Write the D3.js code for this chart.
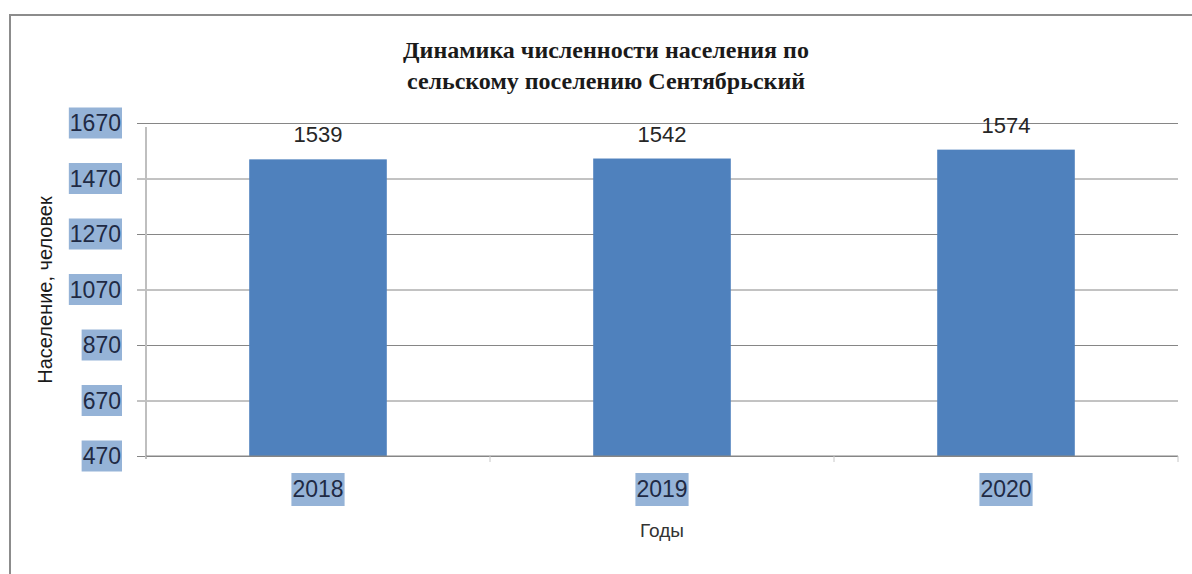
<!DOCTYPE html>
<html>
<head>
<meta charset="utf-8">
<script src="https://cdn.jsdelivr.net/npm/d3@7/dist/d3.min.js"></script>
<style>
  body { margin: 0; background: #fff; }
  svg { display: block; }
</style>
</head>
<body>
<div id="chart"></div>
<script>
var years = ["2018", "2019", "2020"];
var population = [1539, 1542, 1574];
var yTicks = [470, 670, 870, 1070, 1270, 1470, 1670];
var titleLines = ["Динамика численности населения по", "сельскому поселению Сентябрьский"];

var w = 1192, h = 574;
// plot box (don't call it "top", that's window.top)
var plotL = 146, plotR = 1178, plotT = 123, plotB = 456;

var svg = d3.select("#chart").append("svg")
  .attr("width", w)
  .attr("height", h);

// outer frame, cut off on right and bottom
svg.append("rect")
  .attr("x", 10).attr("y", 15)
  .attr("width", w + 20).attr("height", h + 20)
  .attr("fill", "none")
  .attr("stroke", "#8c8c8c")
  .attr("stroke-width", 2);

var x = d3.scaleBand().domain(years).range([plotL, plotR]).paddingInner(0.6).paddingOuter(0.3);
var y = d3.scaleLinear().domain([470, 1670]).range([plotB, plotT]);

// gridlines + ticks
var yAxis = d3.axisLeft(y).tickValues(yTicks).tickSize(-(plotR - plotL)).tickSizeOuter(0).tickFormat("");
var gy = svg.append("g").attr("transform", "translate(" + plotL + ",0)").call(yAxis);
gy.select(".domain").remove();
gy.selectAll(".tick line").attr("stroke", "#868686").attr("x1", -9);

// y axis line
svg.append("line")
  .attr("x1", plotL).attr("x2", plotL)
  .attr("y1", plotT + 4).attr("y2", plotB + 3)
  .attr("stroke", "#bfbfbf").attr("stroke-width", 2);

// bars
svg.selectAll("rect.bar")
  .data(population)
  .enter()
  .append("rect")
  .attr("class", "bar")
  .attr("x", function(d, i) { return x(years[i]); })
  .attr("width", x.bandwidth())
  .attr("y", function(d) { return y(d); })
  .attr("height", function(d) { return y(470) - y(d); })
  .attr("fill", "#4f81bd");

// x axis
var xAxis = d3.axisBottom(x).tickSize(0).tickFormat("");
var gx = svg.append("g").attr("transform", "translate(0," + plotB + ")").call(xAxis);
gx.select(".domain").attr("stroke", "#868686").attr("d", "M" + plotL + ",0H" + plotR);
// small category separators
[1, 2, 3].forEach(function(k) {
  var sx = plotL + k * (plotR - plotL) / 3;
  gx.append("line")
    .attr("x1", sx).attr("x2", sx)
    .attr("y1", 0).attr("y2", 6)
    .attr("stroke", "#c8c8c8");
});

// y tick labels with highlight
var yl = svg.append("g").selectAll("g").data(yTicks).enter().append("g")
  .attr("transform", function(d) { return "translate(121," + y(d) + ")"; });
yl.append("text")
  .attr("text-anchor", "end")
  .attr("dy", "0.36em")
  .attr("font-family", "Liberation Sans, Arial, sans-serif")
  .attr("font-size", 23)
  .attr("fill", "#1f2a44")
  .text(function(d) { return d; })
  .each(function() {
    var b = this.getBBox();
    d3.select(this.parentNode).insert("rect", "text")
      .attr("x", b.x - 1).attr("y", -15.5)
      .attr("width", b.width + 2).attr("height", 31)
      .attr("fill", "#95b3d7");
  });

// x tick labels with highlight
var xl = svg.append("g").selectAll("g").data(years).enter().append("g")
  .attr("transform", function(d) { return "translate(" + (x(d) + x.bandwidth() / 2) + ",489)"; });
xl.append("text")
  .attr("text-anchor", "middle")
  .attr("dy", "0.36em")
  .attr("font-family", "Liberation Sans, Arial, sans-serif")
  .attr("font-size", 23)
  .attr("fill", "#1f2a44")
  .text(function(d) { return d; })
  .each(function() {
    var b = this.getBBox();
    d3.select(this.parentNode).insert("rect", "text")
      .attr("x", b.x - 1).attr("y", -16)
      .attr("width", b.width + 2).attr("height", 33)
      .attr("fill", "#95b3d7");
  });

// data labels
svg.selectAll("text.val")
  .data(population)
  .enter()
  .append("text")
  .attr("class", "val")
  .attr("x", function(d, i) { return x(years[i]) + x.bandwidth() / 2; })
  .attr("y", function(d) { return y(d) - 17; })
  .attr("text-anchor", "middle")
  .attr("font-family", "Liberation Sans, Arial, sans-serif")
  .attr("font-size", 22)
  .attr("fill", "#262626")
  .text(function(d) { return d; });

// title
svg.append("text")
  .attr("x", 606).attr("y", 58)
  .attr("text-anchor", "middle")
  .attr("font-family", "Liberation Serif, Times New Roman, serif")
  .attr("font-weight", "bold")
  .attr("font-size", 24)
  .attr("fill", "#1a1a1a")
  .selectAll("tspan").data(titleLines).enter().append("tspan")
  .attr("x", 606)
  .attr("dy", function(d, i) { return i ? 31 : 0; })
  .text(function(d) { return d; });

// axis titles
svg.append("text")
  .attr("transform", "translate(52,290) rotate(-90)")
  .attr("text-anchor", "middle")
  .attr("font-family", "Liberation Sans, Arial, sans-serif")
  .attr("font-size", 20)
  .attr("fill", "#1a1a1a")
  .text("Население, человек");

svg.append("text")
  .attr("x", 662).attr("y", 537)
  .attr("text-anchor", "middle")
  .attr("font-family", "Liberation Sans, Arial, sans-serif")
  .attr("font-size", 19)
  .attr("fill", "#333")
  .text("Годы");
</script>
</body>
</html>
